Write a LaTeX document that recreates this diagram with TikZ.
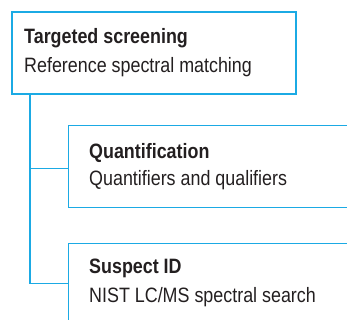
\documentclass[tikz,border=0pt]{standalone}
\usepackage{fontspec}
\setmainfont{Liberation Sans}[FakeStretch=0.86]
\definecolor{lineblue}{RGB}{27,170,228}
\definecolor{txt}{RGB}{35,31,32}
\begin{document}
\begin{tikzpicture}[x=1pt,y=1pt,
  box/.style={draw=lineblue,line width=1.4pt,rectangle,inner sep=0pt},
  head/.style={anchor=base west,inner sep=0pt,text=txt,font=\fontsize{20.8}{22}\selectfont\bfseries},
  sub/.style={anchor=base west,inner sep=0pt,text=txt,font=\fontsize{20.8}{22}\selectfont},
  conn/.style={draw=lineblue,line width=1.4pt}]
\useasboundingbox (0,0) rectangle (347,320);
\clip (0,0) rectangle (347,320);
\node[box,minimum width=284pt,minimum height=82pt] (b1) at (154,267) {};
\node[box,minimum width=291.5pt,minimum height=82pt] (b2) at (214.25,153.3) {};
\node[box,minimum width=291.5pt,minimum height=96.7pt] (b3) at (214.25,28.35) {};
\node[head] (t1) at (24,276.3) {Targeted screening};
\node[sub] (s1) at (24,247.3) {Reference spectral matching};
\node[head] (t2) at (89,161.3) {Quantification};
\node[sub] (s2) at (89,134) {Quantifiers and qualifiers};
\node[head] (t3) at (89,46.7) {Suspect ID};
\node[sub] (s3) at (89,17.3) {NIST LC/MS spectral search};
\coordinate (top) at (30,226);
\coordinate (j2) at (30,151.3);
\coordinate (j3) at (30,36.7);
\draw[conn] (top) -- (j3) -- (j3 -| b3.west);
\draw[conn] (j2) -- (j2 -| b2.west);
\end{tikzpicture}
\end{document}
